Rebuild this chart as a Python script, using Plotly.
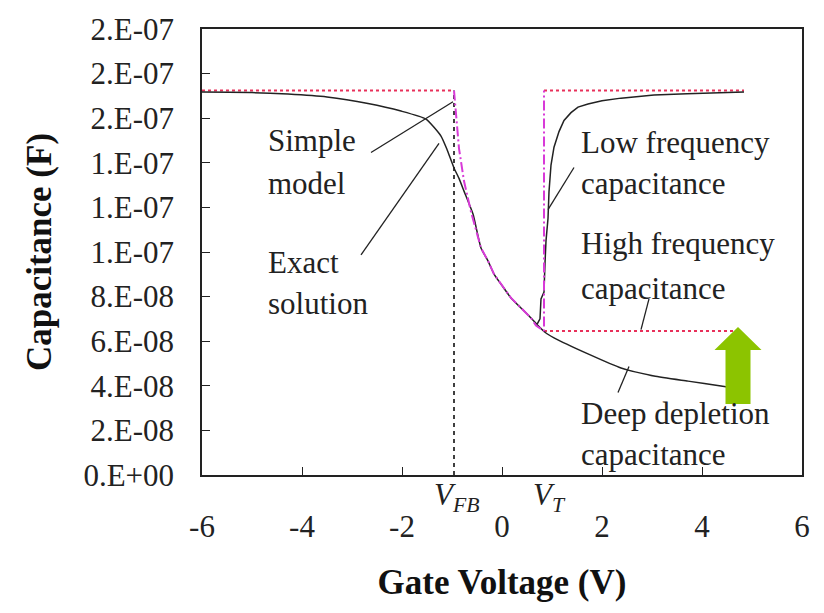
import plotly.graph_objects as go

# ---------------- data ----------------
COX = 1.724e-7
VFB = -0.96
VT = 0.84
CMIN = 6.46e-8

exact_x = [-6, -5, -4.28, -3.5, -2.68, -2.02, -1.52, -1.22, -1.1, -0.96, -0.86, -0.76, -0.58,
           -0.42, -0.28, -0.16, -0.02, 0.18, 0.38, 0.58, 0.70]
exact_y = [1.717e-7, 1.715e-7, 1.708e-7, 1.695e-7, 1.666e-7, 1.632e-7, 1.596e-7, 1.52e-7,
           1.46e-7, 1.377e-7, 1.33e-7, 1.273e-7, 1.170e-7, 1.018e-7, 0.960e-7, 0.901e-7,
           0.856e-7, 0.794e-7, 0.749e-7, 0.704e-7, 0.675e-7]

deep_x = [0.70, 0.86, 1.04, 1.72, 2.38, 3.04, 3.72, 4.38, 4.9]
deep_y = [6.75e-8, 6.4e-8, 6.15e-8, 5.43e-8, 4.80e-8, 4.44e-8, 4.21e-8, 3.99e-8, 3.81e-8]

low_x = [0.70, 0.76, 0.78, 0.84, 0.86, 0.88, 0.92, 0.94, 0.98, 1.04, 1.14, 1.24, 1.38, 1.52,
         1.72, 2.0, 2.38, 3.04, 3.7, 4.38, 4.84]
low_y = [6.75e-8, 7.0e-8, 7.9e-8, 8.2e-8, 9.5e-8, 1.05e-7, 1.15e-7, 1.27e-7, 1.39e-7, 1.47e-7,
         1.54e-7, 1.59e-7, 1.625e-7, 1.65e-7, 1.664e-7, 1.678e-7, 1.690e-7, 1.704e-7,
         1.71e-7, 1.713e-7, 1.717e-7]

simple_x = [-0.96, -0.86, -0.76, -0.62, -0.42, -0.28, -0.16, -0.02, 0.18, 0.38, 0.58, 0.68,
            0.84, 0.84]
simple_y = [1.724e-7, 1.464e-7, 1.318e-7, 1.18e-7, 1.018e-7, 0.96e-7, 0.901e-7, 0.856e-7,
            0.794e-7, 0.749e-7, 0.704e-7, 0.67e-7, 0.646e-7, 1.724e-7]

plateau_left_x = [-6, VFB]
plateau_right_x = [VT, 4.84]
hf_x = [VT, 4.64]

y_tickvals = [0, 2e-8, 4e-8, 6e-8, 8e-8, 1.0e-7, 1.2e-7, 1.4e-7, 1.6e-7, 1.8e-7, 2.0e-7]
y_ticktext = ["0.E+00", "2.E-08", "4.E-08", "6.E-08", "8.E-08", "1.E-07", "1.E-07",
              "1.E-07", "2.E-07", "2.E-07", "2.E-07"]
x_tickvals = [-6, -4, -2, 0, 2, 4, 6]
x_ticktext = ["-6", "-4", "-2", "0", "2", "4", "6"]

# annotation text lines: (text, x, y)
labels = [
    ("Simple", -4.72, 1.498e-7), ("model", -4.72, 1.305e-7),
    ("Exact", -4.72, 0.951e-7), ("solution", -4.72, 0.771e-7),
    ("Low frequency", 1.54, 1.489e-7), ("capacitance", 1.54, 1.305e-7),
    ("High frequency", 1.54, 1.040e-7), ("capacitance", 1.54, 0.838e-7),
    ("Deep depletion", 1.54, 0.278e-7), ("capacitance", 1.54, 0.094e-7),
]
# pointer lines: (x0, y0, x1, y1)
pointers = [
    (-2.62, 1.446e-7, -0.98, 1.674e-7),
    (-2.82, 0.987e-7, -1.26, 1.487e-7),
    (1.44, 1.379e-7, 0.92, 1.19e-7),
    (2.94, 0.79e-7, 2.78, 0.652e-7),
    (2.54, 0.487e-7, 2.32, 0.37e-7),
]
# green arrow geometry
arrow_xc = 4.72
arrow_tip = 6.64e-8
arrow_headbase = 5.6e-8
arrow_bottom = 3.18e-8
arrow_headhalf = 0.47
arrow_shafthalf = 0.25

FONT = "Liberation Serif, Times New Roman, serif"
RED = "#e8305a"
PINK = "#d83ad8"
INK = "#222222"

fig = go.Figure()
fig.add_trace(go.Scatter(x=plateau_left_x, y=[COX, COX], mode="lines",
                         line=dict(color=RED, width=2, dash="dot")))
fig.add_trace(go.Scatter(x=plateau_right_x, y=[COX, COX], mode="lines",
                         line=dict(color=RED, width=2, dash="dot")))
fig.add_trace(go.Scatter(x=hf_x, y=[CMIN, CMIN], mode="lines",
                         line=dict(color=RED, width=2, dash="dot")))
fig.add_trace(go.Scatter(x=[VFB, VFB], y=[0, COX], mode="lines",
                         line=dict(color="black", width=1.5, dash="4px,4px")))
fig.add_trace(go.Scatter(x=exact_x, y=exact_y, mode="lines",
                         line=dict(color=INK, width=1.5, shape="spline", smoothing=0.5)))
fig.add_trace(go.Scatter(x=deep_x, y=deep_y, mode="lines",
                         line=dict(color=INK, width=1.5, shape="spline", smoothing=0.5)))
fig.add_trace(go.Scatter(x=low_x, y=low_y, mode="lines",
                         line=dict(color=INK, width=1.5)))
fig.add_trace(go.Scatter(x=simple_x, y=simple_y, mode="lines",
                         line=dict(color=PINK, width=2, dash="10px,3px,2px,3px")))

shapes = []
for (x0, y0, x1, y1) in pointers:
    shapes.append(dict(type="line", xref="x", yref="y", x0=x0, y0=y0, x1=x1, y1=y1,
                       line=dict(color=INK, width=1.3)))
ax = arrow_xc
path = (f"M {ax - arrow_shafthalf},{arrow_bottom} L {ax - arrow_shafthalf},{arrow_headbase} "
        f"L {ax - arrow_headhalf},{arrow_headbase} L {ax},{arrow_tip} "
        f"L {ax + arrow_headhalf},{arrow_headbase} L {ax + arrow_shafthalf},{arrow_headbase} "
        f"L {ax + arrow_shafthalf},{arrow_bottom} Z")
shapes.append(dict(type="path", xref="x", yref="y", path=path,
                   fillcolor="#8cc400", line=dict(width=0), layer="above"))

annotations = []
for (t, x, y) in labels:
    annotations.append(dict(text=t, x=x, y=y, xref="x", yref="y", xanchor="left",
                            yanchor="middle", showarrow=False,
                            font=dict(family=FONT, size=31, color=INK)))
annotations.append(dict(text="<i>V</i><sub><i>FB</i></sub>", x=VFB + 0.05, y=-0.05, xref="x",
                        yref="paper", xanchor="center", yanchor="middle", showarrow=False,
                        font=dict(family=FONT, size=31, color=INK)))
annotations.append(dict(text="<i>V</i><sub><i>T</i></sub>", x=0.94, y=-0.05, xref="x",
                        yref="paper", xanchor="center", yanchor="middle", showarrow=False,
                        font=dict(family=FONT, size=31, color=INK)))

fig.update_layout(
    width=824, height=613,
    margin=dict(l=194, r=30, t=21, b=146, autoexpand=False),
    paper_bgcolor="white", plot_bgcolor="white",
    showlegend=False,
    shapes=shapes, annotations=annotations,
    font=dict(family=FONT, color=INK),
)
fig.update_xaxes(
    range=[-6, 6], tickvals=x_tickvals, ticktext=x_ticktext, ticks="inside", ticklen=8,
    tickwidth=1.3, tickcolor=INK, showline=True, linecolor=INK, linewidth=1.5, mirror=True,
    showgrid=False, zeroline=False, ticklabelstandoff=23,
    tickfont=dict(family=FONT, size=31, color=INK),
    title=dict(text="<b>Gate Voltage (V)</b>", standoff=27,
               font=dict(family=FONT, size=35, color="#111111")),
)
fig.update_yaxes(
    range=[0, 2e-7], tickvals=y_tickvals, ticktext=y_ticktext, ticks="inside", ticklen=8,
    tickwidth=1.3, tickcolor=INK, showline=True, linecolor=INK, linewidth=1.5,
    mirror=True, showgrid=False, zeroline=False, ticklabelstandoff=20,
    tickfont=dict(family=FONT, size=31, color=INK),
    title=dict(text="<b>Capacitance (F)</b>", standoff=21,
               font=dict(family=FONT, size=35, color="#111111")),
)

fig.write_html("out.html")
